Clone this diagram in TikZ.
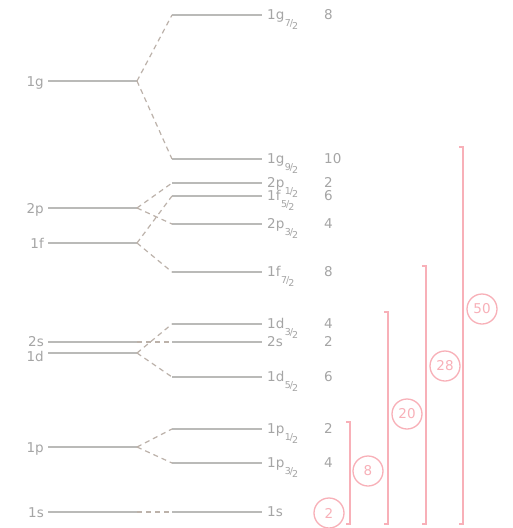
\documentclass[tikz,border=0pt]{standalone}
\usepackage{fontspec}
\setmainfont{DejaVu Sans}
\usetikzlibrary{positioning}

\definecolor{lvgray}{RGB}{186,186,184}
\definecolor{dashgray}{RGB}{188,178,170}
\definecolor{txtgray}{RGB}{165,165,165}
\definecolor{magicred}{RGB}{248,176,184}

% j = l +- 1/2 als kleiner Bruch im Index
\newcommand{\jsub}[1]{\kern0.5pt\raisebox{-7.5pt}{\fontsize{9.5}{9.5}\selectfont#1\kern-1pt/\kern-1pt\raisebox{-3.3pt}{2}}}

\begin{document}
\begin{tikzpicture}[x=1pt,y=-1pt,
	level/.style={draw=lvgray,line width=1.3pt},
	split/.style={draw=dashgray,line width=1.2pt,dash pattern=on 5pt off 4pt},
	lbl/.style={text=txtgray,font=\fontsize{13.5}{13.5}\selectfont,inner sep=0pt},
	shell/.style={draw=magicred,line width=1.3pt},
	magic/.style={circle,draw=magicred,line width=1.3pt,minimum size=30pt,inner sep=0pt,
		text=magicred,font=\fontsize{13.5}{13.5}\selectfont}]
	\fill[white] (0,0) rectangle (513,528);
	\useasboundingbox (0,0) rectangle (513,528);
	
	% Oszillator-Niveaus (links)
	\foreach \n/\y/\o in {1g/81/5,2p/208/5,1f/243/5,2s/342/4,1d/353/8,1p/447/5,1s/512/5}{
		\coordinate (\n-w) at (48,\y);
		\coordinate (\n-e) at (137,\y);
		\draw[level] (\n-w) -- (\n-e);
		\node[lbl,anchor=base east] (t\n) at (44,\y+\o) {\n};
	}
	
	% Niveaus mit Spin-Bahn-Aufspaltung (rechts), mit Entartung 2j+1
	\foreach \n/\y/\t/\g in {g7/15/1g\jsub{7}/8,g9/159/1g\jsub{9}/10,pa/183/2p\jsub{1}/2,
		f5/196/1f\jsub{5}/6,pb/224/2p\jsub{3}/4,f7/272/1f\jsub{7}/8,d3/324/1d\jsub{3}/4,
		s2/342/2s/2,d5/377/1d\jsub{5}/6,p1/429/1p\jsub{1}/2,p3/463/1p\jsub{3}/4,s1/512/1s/{}}{
		\coordinate (\n-w) at (172,\y);
		\coordinate (\n-e) at (262,\y);
		\draw[level] (\n-w) -- (\n-e);
		\node[lbl,anchor=base west] (t\n) at (267,\y+4) {\t};
		\node[lbl,anchor=base west] (g\n) at (324,\y+4.5) {\g};
	}
	
	% Aufspaltung (gestrichelt)
	\foreach \a/\b in {1g/g7,1g/g9,2p/pa,2p/pb,1f/f5,1f/f7,2s/s2,1d/d3,1d/d5,1p/p1,1p/p3,1s/s1}
	\draw[split] (\a-e) -- (\b-w);
	
	% Schalen bis zur magischen Zahl
	\foreach \x/\t in {350/422,388/312,426/266,463/147}
	\draw[shell] (\x-4,\t) -- (\x,\t) -- (\x,524) -- (\x-4,524);
	
	% magische Zahlen
	\node[magic] (m2) at (329,513) {2};
	\node[magic] (m8) at (368,471) {8};
	\node[magic] (m20) at (407,414) {20};
	\node[magic] (m28) at (445,366) {28};
	\node[magic] (m50) at (482,309) {50};
\end{tikzpicture}
\end{document}
